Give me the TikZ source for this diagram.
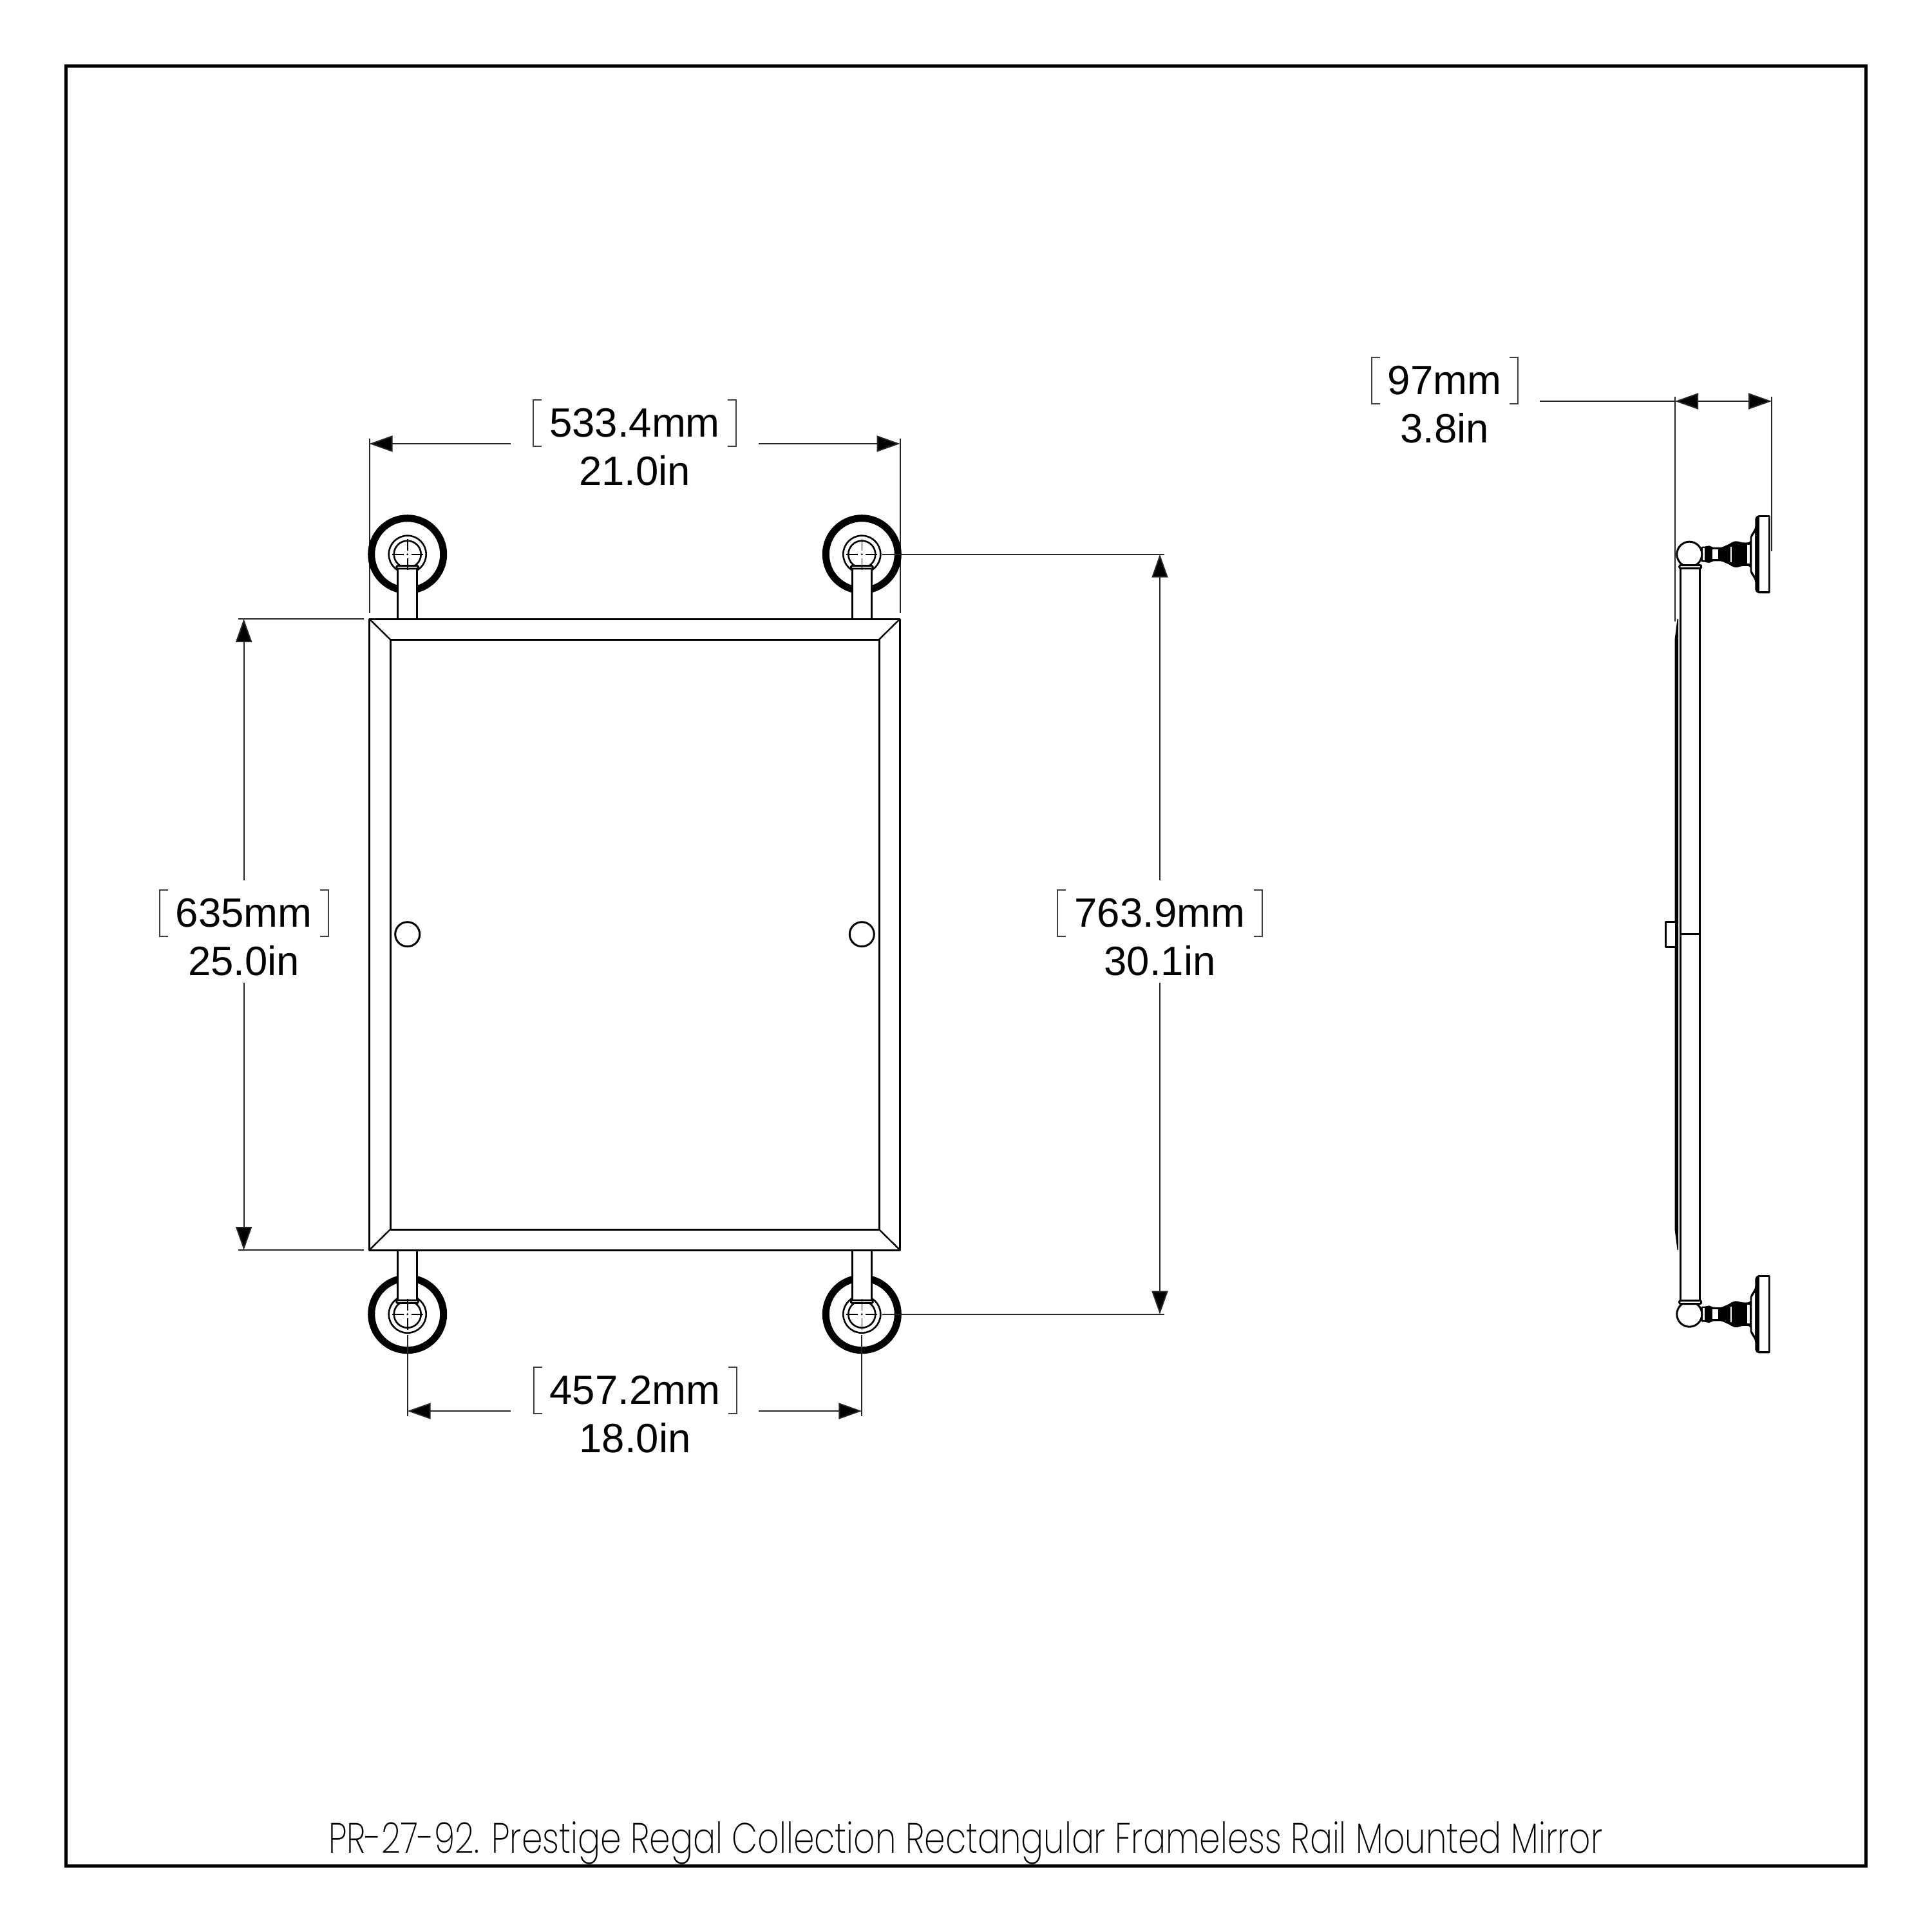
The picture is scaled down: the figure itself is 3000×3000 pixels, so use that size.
\documentclass[tikz,border=0pt]{standalone}
\usepackage{fontspec}
\usepackage{graphicx}
\usetikzlibrary{arrows.meta}
\setmainfont{Liberation Sans}
\newfontfamily\capfont[UprightFont=* ExtraLight]{Poppins}
\tikzset{
  x=1pt,y=-1pt,
  obj/.style={line width=3pt,draw=black,line join=round},
  extl/.style={line width=2pt,draw=black!85},
  diml/.style={line width=2pt,draw=black!85},
  arr/.style={diml,-{Triangle[length=36pt,width=25pt,fill=black]}},
  brk/.style={line width=2pt,draw=black!75},
  dimtxt/.style={anchor=base,inner sep=0pt,font=\fontsize{63.5}{63.5}\selectfont,text=black},
  frameline/.style={line width=5pt,draw=black}
}
% \rosette{cx}{cy}
\newcommand{\rosette}[2]{%
  \draw[line width=11pt,black] (#1,#2) circle[radius=56];
  \draw[line width=2.6pt] (#1,#2) circle[radius=29];
  \draw[line width=2.6pt] (#1,#2) circle[radius=21];
}
\newcommand{\crosshair}[2]{%
  \draw[line width=1.6pt] (#1,#2-24) -- (#1,#2-6) (#1,#2+6) -- (#1,#2+24)
    (#1-24,#2) -- (#1-6,#2) (#1+6,#2) -- (#1+24,#2);
  \fill (#1,#2) circle[radius=1.6];
}
% \dimlabel{name}{cx}{baseline}{first}{second}{half bracket width}
\newcommand{\dimlabel}[6]{%
  \node[dimtxt] (#1a) at (#2,#3) {#4};
  \node[dimtxt] (#1b) at (#2,#3+75) {#5};
  \draw[brk] (#2-#6+13,#3-57) -- (#2-#6,#3-57) -- (#2-#6,#3+15) -- (#2-#6+13,#3+15);
  \draw[brk] (#2+#6-13,#3-57) -- (#2+#6,#3-57) -- (#2+#6,#3+15) -- (#2+#6-13,#3+15);
}
% side wall mount, in zoom units around the axis
\newcommand{\mount}[1]{%
  \begin{scope}[shift={(2540,#1)},x=0.3333pt,y=-0.3333pt]
    \fill[black,rounded corners=2pt] (305,-36) -- (328,-36) -- (335,-40) -- (348,-40) -- (356,-32) -- (400,-32)
      -- (440,-50) -- (450,-58) -- (470,-62) -- (490,-56) -- (505,-54) -- (533,-56) -- (533,-85)
      -- (552,-115) -- (556,-125) -- (556,-170) -- (568,-182) -- (626,-182) -- (626,182) -- (568,182)
      -- (556,170) -- (556,125) -- (552,115) -- (533,85) -- (533,56) -- (505,54) -- (490,56) -- (470,62)
      -- (450,58) -- (440,50) -- (400,32) -- (356,32) -- (348,40) -- (335,40) -- (328,36) -- (305,36) -- cycle;
    \fill[white] (575,-173) rectangle (619,173);
    \fill[white] (358,-22) rectangle (385,22);
    \fill[white] (313,-28) rectangle (321,28);
    \fill[white] (441,-36) rectangle (447,36);
    \fill[white] (520,-44) rectangle (530,44);
    \fill[white] (541,-78) -- (555,-100) -- (555,100) -- (541,78) -- cycle;
  \end{scope}
}
\begin{document}
\begin{tikzpicture}
\useasboundingbox (0,0) rectangle (3000,3000);
\fill[white] (0,0) rectangle (3000,3000);
\draw[frameline] (102.5,102.5) rectangle (2897.5,2897.5);

% named points
\coordinate (tl) at (632.7,860.7);
\coordinate (tr) at (1338.3,860.7);
\coordinate (bl) at (632.7,2040.7);
\coordinate (br) at (1338.3,2040.7);

% extension lines
\draw[extl] (573.5,681) -- (573.5,952);
\draw[extl] (1397.5,681) -- (1397.5,952);
\draw[extl] (370,961) -- (565,961);
\draw[extl] (370,1941) -- (565,1941);

% rosettes
\rosette{632.7}{860.7}
\rosette{1338.3}{860.7}
\rosette{632.7}{2040.7}
\rosette{1338.3}{2040.7}

% posts
\foreach \cx in {632.7,1338.3}{
  \draw[obj,fill=white,line width=2.8pt] (\cx-15,961) -- (\cx-15,883) -- (\cx+15,883) -- (\cx+15,961);
  \draw[obj,fill=white,line width=2.8pt,rounded corners=1.5pt] (\cx-17,878.5) rectangle (\cx+17,883);
  \draw[obj,fill=white,line width=2.8pt] (\cx-15,1941) -- (\cx-15,2019) -- (\cx+15,2019) -- (\cx+15,1941);
  \draw[obj,fill=white,line width=2.8pt,rounded corners=1.5pt] (\cx-17,2019) rectangle (\cx+17,2023.5);
}
\crosshair{632.7}{860.7}
\crosshair{1338.3}{860.7}
\crosshair{632.7}{2040.7}
\crosshair{1338.3}{2040.7}

% mirror
\draw[obj] (573.5,961) rectangle (1397.5,1941);
\draw[obj] (606,993) rectangle (1365,1909);
\draw[obj,line width=2.4pt] (573.5,961) -- (606,993) (1397.5,961) -- (1365,993)
  (573.5,1941) -- (606,1909) (1397.5,1941) -- (1365,1909);
\draw[obj] (632.7,1450.7) circle[radius=19];
\draw[obj] (1338.3,1450.7) circle[radius=19];

% extension lines from the lower and right rosettes
\draw[extl] (1370,860.7) -- (1808,860.7);
\draw[extl] (1370,2040.7) -- (1808,2040.7);
\draw[extl] (632.7,2073) -- (632.7,2199);
\draw[extl] (1338.3,2073) -- (1338.3,2199);

% dimension: 533.4mm
\dimlabel{w}{985.5}{678}{533.4mm}{21.0in}{157.5}
\coordinate (wL) at (573.5,689); \coordinate (wR) at (1397.5,689);
\draw[arr] (793,689) -- (wL);
\draw[arr] (1178,689) -- (wR);

% dimension: 457.2mm
\dimlabel{c}{986}{2180}{457.2mm}{18.0in}{157.5}
\draw[arr] (793,2191) -- (632.7,2191);
\draw[arr] (1178,2191) -- (1338.3,2191);

% dimension: 635mm
\dimlabel{h}{378.6}{1439}{635mm}{25.0in}{131}
\draw[arr] (378.6,1367) -- (378.6,961);
\draw[arr] (378.6,1526) -- (378.6,1941);

% dimension: 763.9mm
\dimlabel{r}{1801}{1439}{763.9mm}{30.1in}{159}
\draw[arr] (1801,1367) -- (1801,860.7);
\draw[arr] (1801,1526) -- (1801,2040.7);

% side view
\draw[extl] (2601,616) -- (2601,965);
\draw[extl] (2751,616) -- (2751,856);
\dimlabel{d}{2243}{612}{97mm}{3.8in}{113.5}
\draw[diml] (2391,623) -- (2601,623);
\draw[diml,{Triangle[length=36pt,width=25pt,fill=black]}-{Triangle[length=36pt,width=25pt,fill=black]}] (2601,623) -- (2751,623);

\mount{860.67}
\mount{2040.67}
% rail
\draw[obj] (2609.5,882) -- (2609.5,2021);
\draw[obj] (2639.3,882) -- (2639.3,2021);
\draw[obj] (2609.5,1450.7) -- (2639.3,1450.7);
% balls and collars
\draw[obj,fill=white] (2623.3,860.67) circle[radius=19.5];
\draw[obj,fill=white] (2623.3,2040.67) circle[radius=19.5];
\draw[obj,fill=white,rounded corners=2pt] (2607.7,877.5) rectangle (2641.7,882.5);
\draw[obj,fill=white,rounded corners=2pt] (2607.7,2019.5) rectangle (2641.7,2024.5);
% mirror edge
\fill[black] (2604.5,961) -- (2600.5,993) -- (2600.5,1909) -- (2604.5,1941) -- (2606,1941) -- (2606,961) -- cycle;
\draw[obj,fill=white] (2601,1431) -- (2586,1431) -- (2586,1470) -- (2601,1470);

% caption
\node[anchor=base west,inner sep=0pt] (cap) at (510,2877) {\resizebox{1978pt}{\height}{\capfont\fontsize{66}{66}\selectfont PR-27-92. Prestige Regal Collection Rectangular Frameless Rail Mounted Mirror}};
\end{tikzpicture}
\end{document}
